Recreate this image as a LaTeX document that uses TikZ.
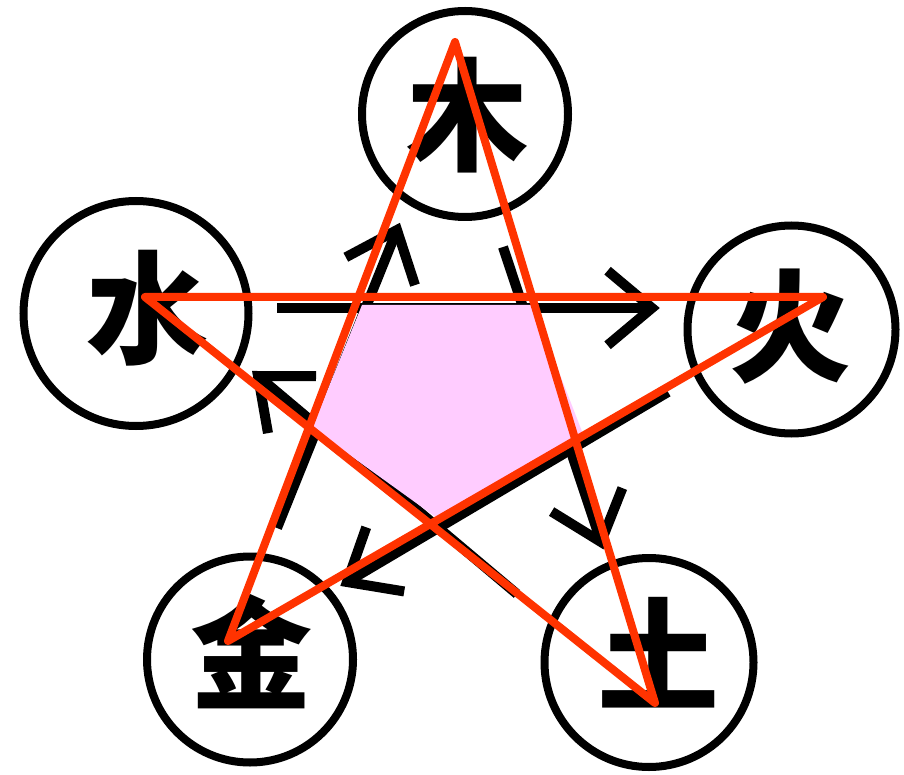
\documentclass[tikz,border=0pt]{standalone}
\usepackage{fontspec}
\newfontfamily\cjk{Noto Sans CJK SC}
\usetikzlibrary{calc}
\definecolor{starred}{HTML}{FF3300}
\definecolor{pinkfill}{HTML}{FFCCFF}
\begin{document}
\begin{tikzpicture}[x=1pt,y=-1pt,
  elem/.style={circle,draw=black,line width=8pt,inner sep=0pt,outer sep=0pt},
  glyph/.style={inner sep=0pt,font=\cjk\bfseries\fontsize{122pt}{122pt}\selectfont},
  blk/.style={draw=black,line width=10pt,line cap=butt,line join=miter},
  redstar/.style={draw=starred,line width=8pt,line join=round,line cap=round}]
\useasboundingbox (0,0) rectangle (904,775);

% element circles
\node[elem,minimum size=206pt] (cmu)   at (465,114)     {};
\node[elem,minimum size=208pt] (chuo)  at (791.5,329.5) {};
\node[elem,minimum size=209pt] (ctu)   at (649,662.5)   {};
\node[elem,minimum size=206pt] (cjin)  at (250,659.5)   {};
\node[elem,minimum size=225pt] (cshui) at (136,313.5)   {};

% characters
\node[glyph] (tmu)   at (467,115) {木};
\node[glyph] (thuo)  at (790,327) {火};
\node[glyph] (ttu)   at (658,653) {土};
\node[glyph] (tjin)  at (251,651) {金};
\node[glyph] (tshui) at (147,308) {水};

% black overcoming cycle
\coordinate (a1s) at (277,308); \coordinate (a1t) at (652,308);
\coordinate (a2s) at (277,528); \coordinate (a2t) at (397,230);
\coordinate (a3s) at (503,247); \coordinate (a3t) at (601,542);
\coordinate (a4s) at (517,594); \coordinate (a4t) at (258,376);
\coordinate (a5s) at (668,392); \coordinate (a5t) at (347,582);
\foreach \i in {1,...,5}{
  \draw[blk] (a\i s) -- (a\i t);
  \draw[blk] ($(a\i t)!58pt!40:(a\i s)$) -- (a\i t) -- ($(a\i t)!58pt!-40:(a\i s)$);
}

% pink inner pentagon
\fill[pinkfill] (362,305) -- (533,305) -- (583,434) -- (437,518) -- (312,428) -- cycle;

% red star
\coordinate (rT)  at (455,42);
\coordinate (rR)  at (823,297);
\coordinate (rBR) at (655,703);
\coordinate (rBL) at (228,641);
\coordinate (rL)  at (145,297);
\draw[redstar] (rT) -- (rBL) -- (rR) -- (rL) -- (rBR) -- cycle;
\end{tikzpicture}
\end{document}
